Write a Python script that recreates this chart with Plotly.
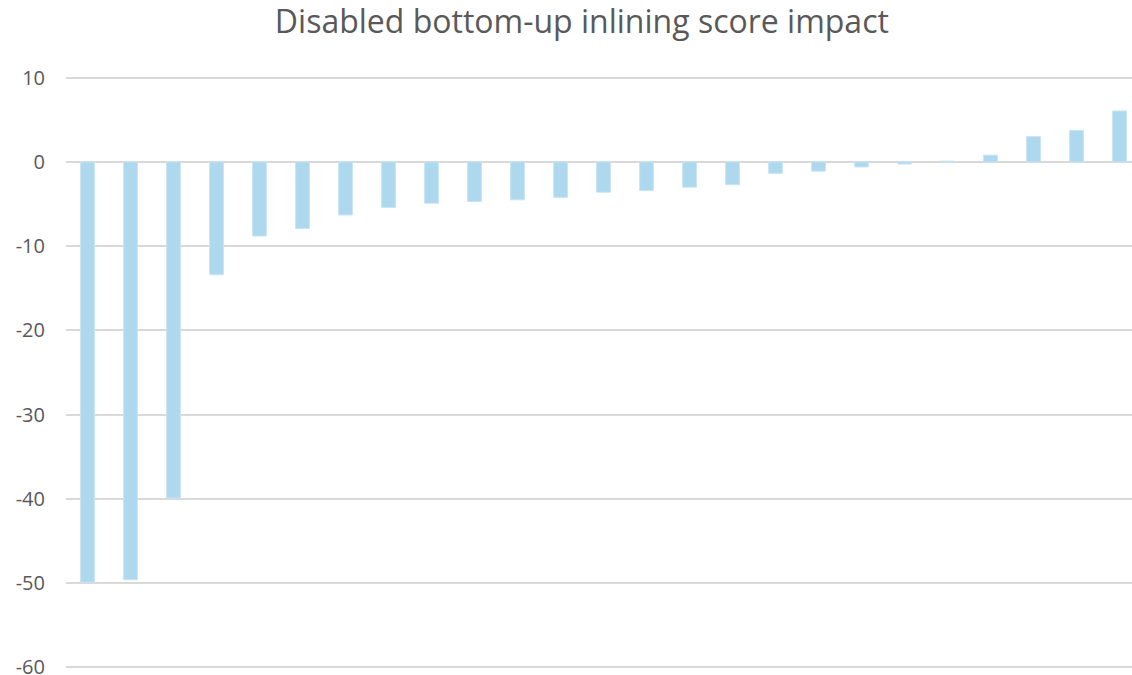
import plotly.graph_objects as go

categories = [str(i) for i in range(1, 26)]
values = [-49.9, -49.6, -39.9, -13.4, -8.8, -7.9, -6.3, -5.4, -4.9, -4.7,
          -4.5, -4.2, -3.6, -3.4, -3.0, -2.7, -1.35, -1.1, -0.6, -0.25,
          0.1, 0.8, 3.0, 3.75, 6.05]
y_ticks = [10, 0, -10, -20, -30, -40, -50, -60]

fig = go.Figure(go.Bar(
    x=categories, y=values,
    width=0.32,
    marker=dict(color="#ADD8EE", line=dict(color="#C6E4F3", width=1)),
))

fig.update_layout(
    width=1132, height=675,
    margin=dict(l=66, r=0, t=76, b=6, autoexpand=False),
    paper_bgcolor="white", plot_bgcolor="white",
    showlegend=False,
    font=dict(family="Open Sans", color="#595959"),
    title=dict(text="Disabled bottom-up inlining score impact",
               x=0.514, xanchor="center", y=1 - 22 / 675, yanchor="middle",
               yref="container",
               font=dict(family="Open Sans", size=32, color="#595959")),
    xaxis=dict(range=[-0.5, 24.29], showticklabels=False, showgrid=False,
               zeroline=False, showline=False, ticks="", automargin=False),
    yaxis=dict(range=[-60.2, 10.2], tickvals=y_ticks,
               ticktext=[str(v) for v in y_ticks],
               showgrid=True, gridcolor="#D9D9D9", gridwidth=1.5,
               zeroline=True, zerolinecolor="#D9D9D9", zerolinewidth=1.5,
               showline=False, ticks="", ticklabelstandoff=20,
               ticklabeloverflow="allow", automargin=False,
               tickfont=dict(family="Open Sans", size=20, color="#595959")),
)

fig.write_html("out.html")
